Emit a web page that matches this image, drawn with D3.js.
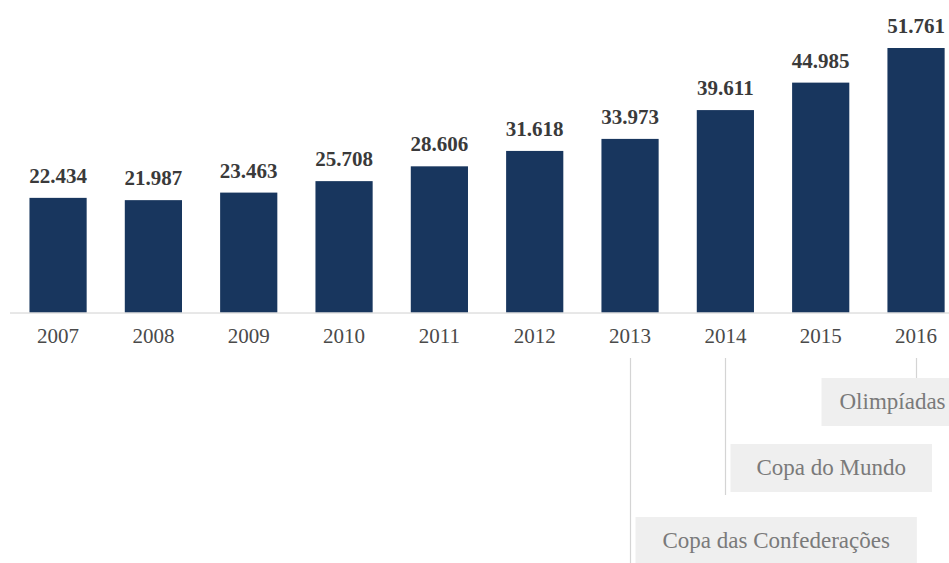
<!DOCTYPE html>
<html>
<head>
<meta charset="utf-8">
<script src="https://cdn.jsdelivr.net/npm/d3@7"></script>
<style>
  html, body { margin: 0; padding: 0; background: #fff; }
  svg { display: block; }
</style>
</head>
<body>
<svg id="chart" width="949" height="563"></svg>
<script>
// ---- data ----
const years = ["2007","2008","2009","2010","2011","2012","2013","2014","2015","2016"];
const values = [22.434, 21.987, 23.463, 25.708, 28.606, 31.618, 33.973, 39.611, 44.985, 51.761];
const valueLabels = ["22.434","21.987","23.463","25.708","28.606","31.618","33.973","39.611","44.985","51.761"];
const eventYears = ["2016", "2014", "2013"];
const eventLabels = ["Olimpíadas", "Copa do Mundo", "Copa das Confederações"];

// ---- layout ----
const W = 949, H = 563;
const baseY = 312.5;
const serif = "'Liberation Serif', 'Times New Roman', serif";
const svg = d3.select("#chart");

const x = d3.scaleBand().domain(years).range([10.4, 963.7]).paddingInner(0.4).paddingOuter(0.2);
const y = d3.scaleLinear().domain([0, d3.max(values)]).range([baseY, 48]);

const data = years.map((yr, i) => ({ year: yr, value: values[i], label: valueLabels[i] }));

// bars
svg.append("g").selectAll("rect").data(data).join("rect")
  .attr("x", d => x(d.year))
  .attr("y", d => y(d.value))
  .attr("width", x.bandwidth())
  .attr("height", d => y(0) - y(d.value))
  .attr("fill", "#18365e");

// value labels
svg.append("g").selectAll("text").data(data).join("text")
  .attr("x", d => x(d.year) + x.bandwidth() / 2)
  .attr("y", d => y(d.value) - 15)
  .attr("text-anchor", "middle")
  .attr("font-family", serif)
  .attr("font-weight", "bold")
  .attr("font-size", 21)
  .attr("fill", "#3a3a3a")
  .text(d => d.label);

// x axis
const axis = d3.axisBottom(x).tickSize(0).tickPadding(16);
const gx = svg.append("g").attr("transform", `translate(0,${baseY})`).call(axis);
gx.select(".domain").remove();
gx.selectAll("text")
  .attr("font-family", serif)
  .attr("font-size", 21)
  .attr("fill", "#4a4a4a");
svg.append("line")
  .attr("x1", 10).attr("x2", W)
  .attr("y1", baseY + 0.5).attr("y2", baseY + 0.5)
  .attr("stroke", "#d0d0d0").attr("stroke-width", 1);

// annotations
const boxTops = [378, 444, 517];
const boxH = 48;
const boxDx = [-95, 5, 5];
const lineEnds = [378, 495, H];
const pads = [18, 26, 27];
const ann = svg.append("g");
eventYears.forEach((yr, i) => {
  const cx = Math.round(x(yr) + x.bandwidth() / 2) + 0.5;
  ann.append("line")
    .attr("x1", cx).attr("x2", cx)
    .attr("y1", 358).attr("y2", lineEnds[i])
    .attr("stroke", "#d4d4d4").attr("stroke-width", 1.2);
  const g = ann.append("g");
  const rect = g.append("rect").attr("fill", "#efefef");
  const t = g.append("text")
    .attr("font-family", serif)
    .attr("font-size", 23)
    .attr("fill", "#7a7a7a")
    .text(eventLabels[i]);
  const tw = t.node().getComputedTextLength();
  const left = cx + boxDx[i];
  rect.attr("x", left).attr("y", boxTops[i])
    .attr("width", tw + pads[i] * 2).attr("height", boxH);
  t.attr("x", left + pads[i]).attr("y", boxTops[i] + boxH / 2 + 7);
});
</script>
</body>
</html>
